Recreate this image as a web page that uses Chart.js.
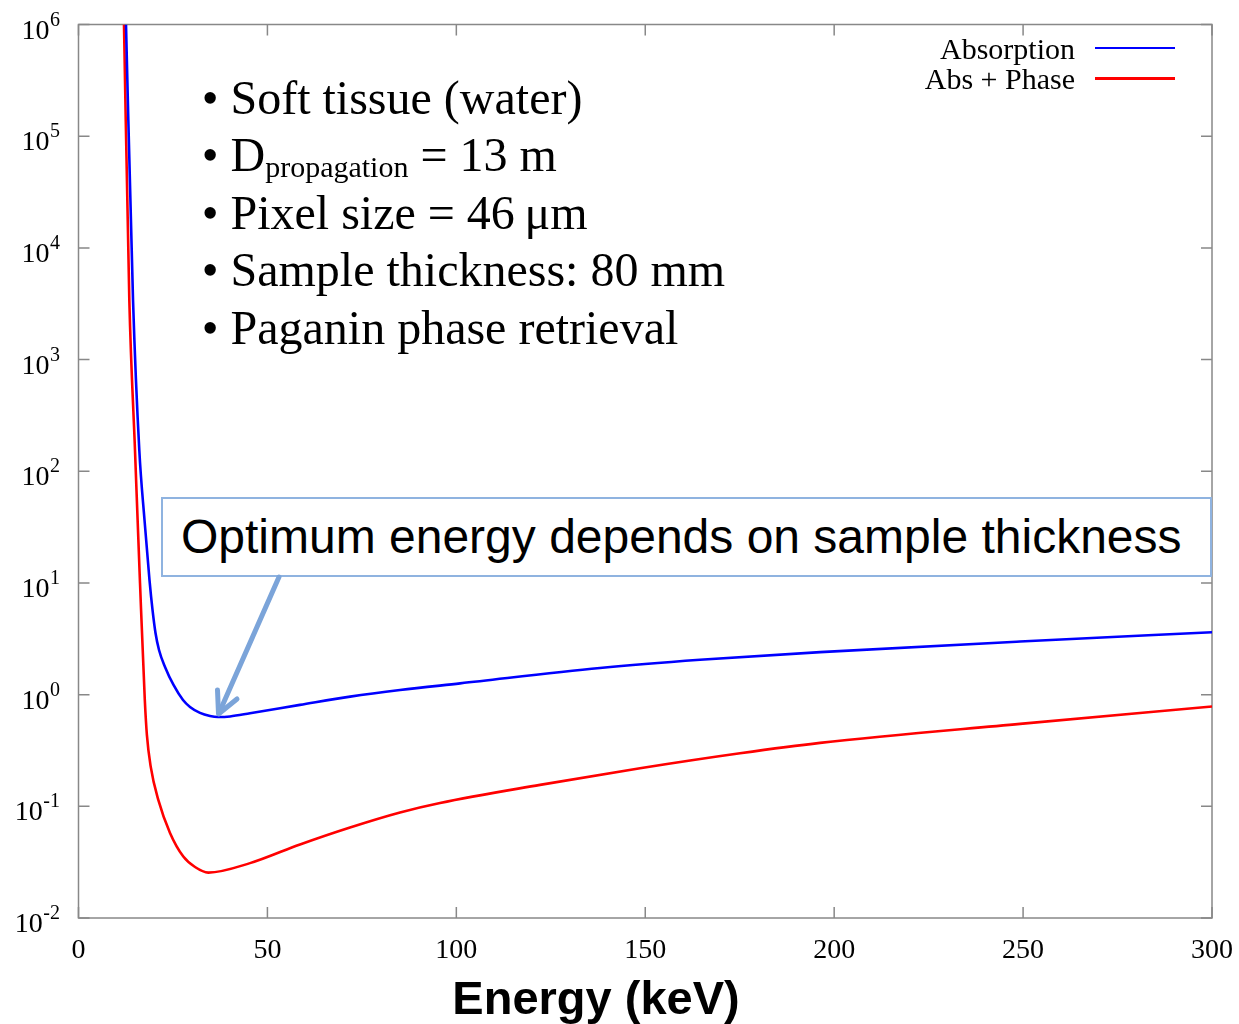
<!DOCTYPE html>
<html><head><meta charset="utf-8">
<script src="https://cdn.jsdelivr.net/npm/chart.js@4/dist/chart.umd.min.js"></script>
<style>
html,body{margin:0;padding:0;background:#fff;}
#wrap{position:relative;width:1239px;height:1024px;overflow:hidden;}
#c{position:absolute;left:0;top:0;}
.ov{position:absolute;white-space:nowrap;color:#000;}
.serif{font-family:"Liberation Serif","Times New Roman",serif;}
.sans{font-family:"Liberation Sans",Arial,sans-serif;}
</style></head><body>
<div id="wrap">
<canvas id="c" width="1239" height="1024"></canvas>

<div class="ov serif" style="left:201.7px;top:68.6px;font-size:48px;line-height:57.5px;">• Soft tissue (water)</div>
<div class="ov serif" style="left:201.7px;top:126.1px;font-size:48px;line-height:57.5px;">• D<span style="font-size:30px;position:relative;top:6px;">propagation</span> = 13 m</div>
<div class="ov serif" style="left:201.7px;top:183.6px;font-size:48px;line-height:57.5px;">• Pixel size = 46&#8201;μm</div>
<div class="ov serif" style="left:201.7px;top:241.1px;font-size:48px;line-height:57.5px;">• Sample thickness: 80 mm</div>
<div class="ov serif" style="left:201.7px;top:298.6px;font-size:48px;line-height:57.5px;">• Paganin phase retrieval</div>

<div class="ov serif" style="right:164px;top:33.5px;font-size:30px;line-height:30px;text-align:right;">Absorption</div>
<div class="ov serif" style="right:164px;top:63.5px;font-size:30px;line-height:30px;text-align:right;">Abs + Phase</div>
<div class="ov" style="left:1095px;top:46.5px;width:80px;height:2.5px;background:#0000ff;"></div>
<div class="ov" style="left:1095px;top:77px;width:80px;height:2.5px;background:#ff0000;"></div>

<div class="ov" style="left:161px;top:497px;width:1047px;height:76px;border:2px solid #8fb3e0;background:#fff;"></div>
<div class="ov sans" style="left:181px;top:513.4px;font-size:48px;line-height:48px;">Optimum energy depends on sample thickness</div>

<svg class="ov" style="left:0;top:0;" width="1239" height="1024">
  <g stroke="#7ba4d9" stroke-width="5" stroke-linecap="round" stroke-linejoin="round" fill="none">
    <line x1="279" y1="577" x2="219.5" y2="712"/>
    <polyline points="217.5,690 218.5,714 237,699"/>
  </g>
</svg>

<div class="ov sans" style="left:596px;top:973.5px;font-size:47px;line-height:47px;font-weight:bold;transform:translateX(-50%);">Energy (keV)</div>
</div>

<script>
// Energy (keV) and values for each series
const absEnergy = [12.57, 14.43, 16.09, 17.47, 18.79, 19.59, 20.38, 21.31, 22.9, 25.15, 27.66, 29.51, 32.16, 34.81, 36.92, 40.1, 45.39, 58.6, 71.9, 85.1, 101.0, 138.0, 164.5, 196.3, 249.2, 300];
const absorption = [1e6, 3420, 155, 36.6, 10.6, 5.73, 3.56, 2.51, 1.77, 1.22, 0.895, 0.776, 0.686, 0.644, 0.631, 0.638, 0.681, 0.809, 0.96, 1.10, 1.26, 1.73, 2.05, 2.40, 2.99, 3.62];

const phaseEnergy = [12.04, 13.45, 14.95, 16.28, 17.55, 18.1, 19.11, 21.12, 24.22, 27.74, 30.84, 34.36, 45.39, 58.63, 71.86, 85.1, 95.69, 122.16, 148.62, 175.09, 196.27, 249.21, 300];
const absPhase = [1e6, 3420, 155, 10, 0.895, 0.436, 0.2265, 0.114, 0.0578, 0.0355, 0.0286, 0.0255, 0.0310, 0.0456, 0.0647, 0.0882, 0.1072, 0.1556, 0.2193, 0.2986, 0.3698, 0.5468, 0.782];

const seriesNames = ['Absorption', 'Abs + Phase'];

const xTicks = [0, 50, 100, 150, 200, 250, 300];
const yTicks = [1e-2, 1e-1, 1, 10, 100, 1e3, 1e4, 1e5, 1e6];
const yTickExponents = ['-2', '-1', '0', '1', '2', '3', '4', '5', '6'];

const frameAndTicks = {
  id: 'frameAndTicks',
  beforeDatasetsDraw(chart) {
    const {ctx, chartArea: a, scales: {x, y}} = chart;
    ctx.save();
    ctx.strokeStyle = '#888';
    ctx.lineWidth = 1.5;
    ctx.strokeRect(a.left, a.top, a.right - a.left, a.bottom - a.top);
    const L = 11;
    ctx.beginPath();
    x.ticks.forEach(t => {
      const px = x.getPixelForValue(t.value);
      ctx.moveTo(px, a.bottom); ctx.lineTo(px, a.bottom - L);
      ctx.moveTo(px, a.top); ctx.lineTo(px, a.top + L);
    });
    y.ticks.forEach(t => {
      const py = y.getPixelForValue(t.value);
      ctx.moveTo(a.left, py); ctx.lineTo(a.left + L, py);
      ctx.moveTo(a.right, py); ctx.lineTo(a.right - L, py);
    });
    ctx.stroke();
    ctx.restore();
  },
  afterDraw(chart) {
    // y tick labels as 10 with raised exponent, placed by the y scale
    const {ctx, chartArea: a, scales: {y}} = chart;
    ctx.save();
    ctx.fillStyle = '#000';
    ctx.textAlign = 'right';
    ctx.textBaseline = 'alphabetic';
    const right = a.left - 18.5;
    y.ticks.forEach((t, i) => {
      const py = y.getPixelForValue(t.value);
      const ex = yTickExponents[i];
      ctx.font = '20px "Liberation Serif"';
      const w = ctx.measureText(ex).width;
      ctx.fillText(ex, right, py + 1);
      ctx.font = '28px "Liberation Serif"';
      ctx.fillText('10', right - w - 0.5, py + 14);
    });
    ctx.restore();
  }
};

new Chart(document.getElementById('c'), {
  type: 'line',
  data: {
    datasets: [
      { label: seriesNames[0], data: absEnergy.map((e, i) => ({x: e, y: absorption[i]})),
        borderColor: '#0000ff', borderWidth: 2.6, pointRadius: 0, fill: false, cubicInterpolationMode: 'monotone' },
      { label: seriesNames[1], data: phaseEnergy.map((e, i) => ({x: e, y: absPhase[i]})),
        borderColor: '#ff0000', borderWidth: 2.6, pointRadius: 0, fill: false, cubicInterpolationMode: 'monotone' }
    ]
  },
  options: {
    responsive: false, animation: false, devicePixelRatio: 1,
    layout: { padding: { left: 0, right: 27, top: 24.5, bottom: 0 } },
    plugins: { legend: { display: false }, tooltip: { enabled: false }, title: { display: false } },
    scales: {
      x: {
        type: 'linear', min: 0, max: 300,
        afterBuildTicks: s => { s.ticks = xTicks.map(v => ({value: v})); },
        afterFit: s => { s.height = 106; s.paddingLeft = 0; s.paddingRight = 0; },
        ticks: { color: '#000', font: { family: 'Liberation Serif', size: 28 }, padding: 16, maxRotation: 0 },
        grid: { display: false, drawTicks: false },
        border: { display: false }
      },
      y: {
        type: 'logarithmic', min: 1e-2, max: 1e6,
        afterBuildTicks: s => { s.ticks = yTicks.map(v => ({value: v})); },
        afterFit: s => { s.width = 78.5; s.paddingTop = 0; s.paddingBottom = 0; },
        ticks: { display: false },
        grid: { display: false, drawTicks: false },
        border: { display: false }
      }
    }
  },
  plugins: [frameAndTicks]
});
</script>
</body></html>
